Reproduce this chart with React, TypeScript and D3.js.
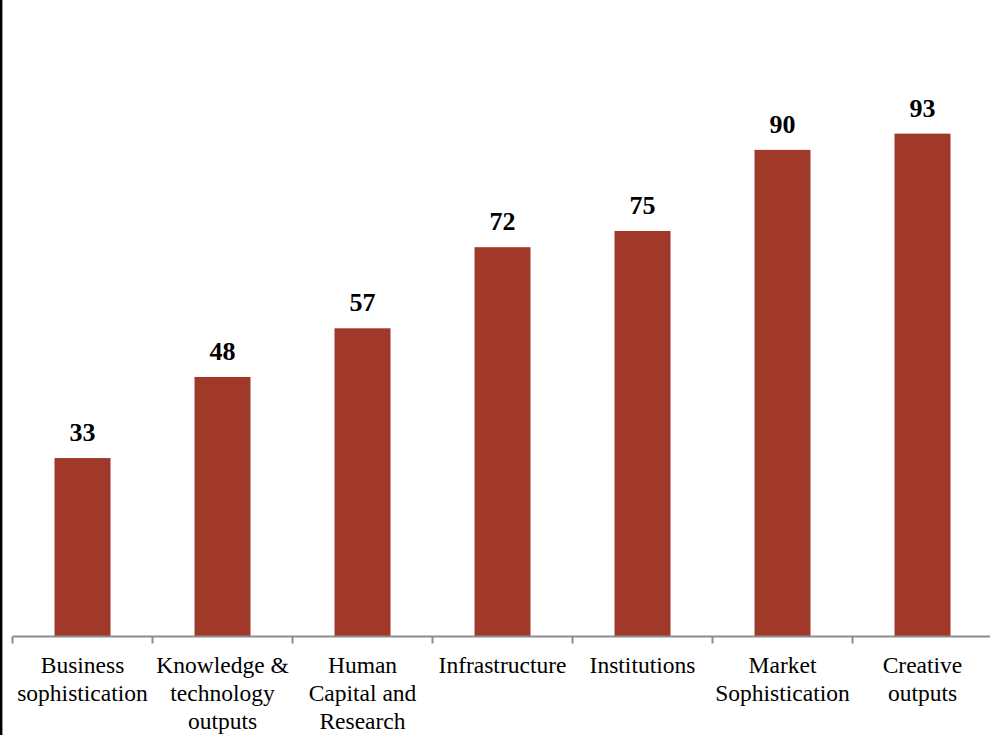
import React from "react";
import * as d3 from "d3";

const categories: string[][] = [
  ["Business", "sophistication"],
  ["Knowledge &", "technology", "outputs"],
  ["Human", "Capital and", "Research"],
  ["Infrastructure"],
  ["Institutions"],
  ["Market", "Sophistication"],
  ["Creative", "outputs"],
];
const values: number[] = [33, 48, 57, 72, 75, 90, 93];

const W = 990;
const H = 735;
const x0 = 12.5;
const baseY = 636.5;

export default function App() {
  const ids = categories.map((_, i) => String(i));
  const x = d3.scaleBand<string>().domain(ids).range([x0, x0 + 140 * ids.length]).paddingInner(0).paddingOuter(0);
  const y = d3.scaleLinear().domain([0, 100]).range([baseY, baseY - 540.7]);
  const bw = x.bandwidth() * 0.4;
  const font = "'Liberation Serif', 'Times New Roman', serif";
  return (
    <svg width={W} height={H} style={{ position: "absolute", left: 0, top: 0, background: "#fff" }}>
      <rect x={0} y={0} width={W} height={H} fill="#fff" />
      <line x1={1.2} x2={1.2} y1={0} y2={H} stroke="#000" strokeWidth={2.4} />
      {values.map((v, i) => {
        const cx = (x(ids[i]) as number) + x.bandwidth() / 2;
        return (
          <g key={i}>
            <rect x={cx - bw / 2} y={y(v)} width={bw} height={baseY - y(v)} fill="#A0392A" />
            <text x={cx} y={y(v) - 17} textAnchor="middle" fontFamily={font} fontWeight="bold" fontSize={26} fill="#000">
              {v}
            </text>
          </g>
        );
      })}
      <line x1={x0} x2={W} y1={baseY} y2={baseY} stroke="#8c8c8c" strokeWidth={2} />
      {d3.range(ids.length + 1).map((k) => {
        const tx = x0 + k * x.step();
        return <line key={k} x1={tx} x2={tx} y1={baseY} y2={baseY + 7} stroke="#8c8c8c" strokeWidth={2} />;
      })}
      {categories.map((lines, i) => {
        const cx = (x(ids[i]) as number) + x.bandwidth() / 2;
        return (
          <text key={i} x={cx} textAnchor="middle" fontFamily={font} fontSize={23.5} fill="#000">
            {lines.map((l, j) => (
              <tspan key={j} x={cx} y={673 + j * 27.8}>
                {l}
              </tspan>
            ))}
          </text>
        );
      })}
    </svg>
  );
}
